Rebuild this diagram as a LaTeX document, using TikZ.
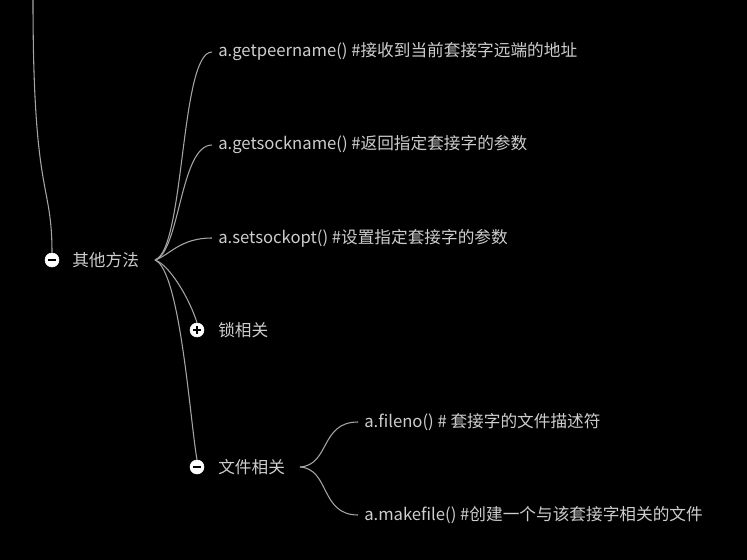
\documentclass[tikz,border=0pt]{standalone}
\usepackage{fontspec}
\setmainfont{Noto Sans CJK SC}
\begin{document}
\begin{tikzpicture}[x=0.75pt,y=-0.75pt,
  lbl/.style={anchor=west,text=txt,font=\fontsize{12.5pt}{14pt}\selectfont,inner sep=0pt},
  con/.style={draw=edge,line width=0.8pt},
  fold/.style={circle,fill=white,draw=white,minimum size=10.5pt,inner sep=0pt}]
\definecolor{txt}{RGB}{205,205,205}
\definecolor{edge}{RGB}{165,165,165}
\fill[black] (0,0) rectangle (747,560);
\useasboundingbox (0,0) rectangle (747,560);
\coordinate (top) at (33,0);
\node[fold] (c0) at (52,260) {};
\draw[black,line width=1.3pt] (48,260) -- (56,260);
\node[lbl] (root) at (72,260) {其他方法};
\coordinate (rootout) at (155,260);
\node[lbl] (n1) at (218,52) {a.getpeername() \#接收到当前套接字远端的地址};
\node[lbl] (n2) at (218,145) {a.getsockname() \#返回指定套接字的参数};
\node[lbl] (n3) at (218,238) {a.setsockopt() \#设置指定套接字的参数};
\node[fold] (c4) at (197,330) {};
\draw[black,line width=1.3pt] (193,330) -- (201,330) (197,326) -- (197,334);
\node[lbl] (n4) at (218,330) {锁相关};
\node[fold] (c5) at (197,467) {};
\draw[black,line width=1.3pt] (193,467) -- (201,467);
\node[lbl] (n5) at (218,467) {文件相关};
\coordinate (n5out) at (300,467);
\node[lbl] (m1) at (364,422) {a.fileno() \# 套接字的文件描述符};
\node[lbl] (m2) at (364,515) {a.makefile() \#创建一个与该套接字相关的文件};

\draw[con] (top) .. controls (33,200) and (52,180) .. (c0.north);
\draw[con] (rootout) .. controls (185,250) and (180,52) .. (212,52);
\draw[con] (rootout) .. controls (180,252) and (180,145) .. (212,145);
\draw[con] (rootout) .. controls (170,255) and (180,238) .. (212,238);
\draw[con] (rootout) .. controls (170,265) and (190,300) .. (c4.north);
\draw[con] (rootout) .. controls (180,270) and (190,420) .. (c5.north);
\draw[con] (n5out) .. controls (330,465) and (320,422) .. (358,422);
\draw[con] (n5out) .. controls (330,469) and (320,515) .. (358,515);
\end{tikzpicture}
\end{document}
